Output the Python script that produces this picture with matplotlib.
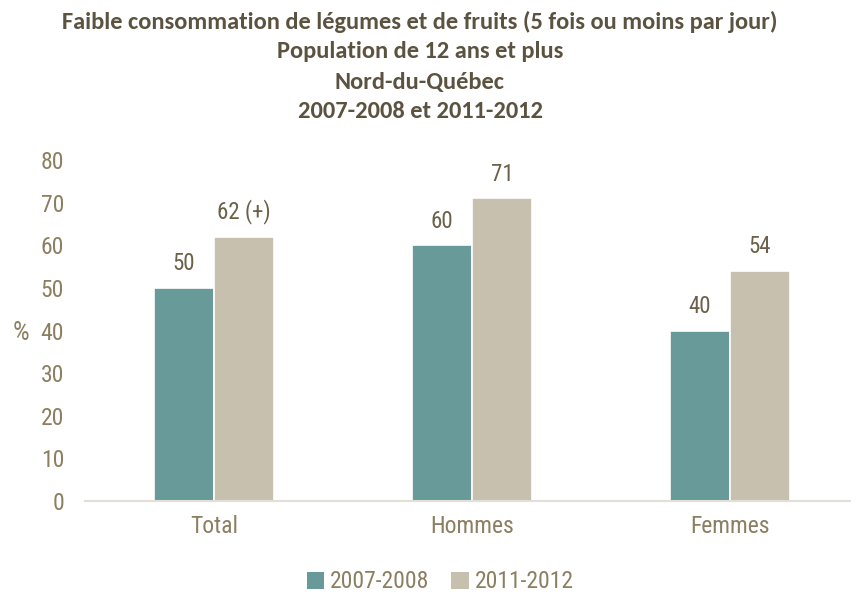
import matplotlib
matplotlib.use("Agg")
import matplotlib.pyplot as plt
from matplotlib import font_manager as fm
from matplotlib.patches import Patch
import numpy as np

categories = ["Total", "Hommes", "Femmes"]
series_names = ["2007-2008", "2011-2012"]
values_2007 = [50, 60, 40]
values_2011 = [62, 71, 54]
labels_2007 = ["50", "60", "40"]
labels_2011 = ["62 (+)", "71", "54"]
yticks = [0, 10, 20, 30, 40, 50, 60, 70, 80]

names = {f.name for f in fm.fontManager.ttflist}
narrow = next((n for n in ["Liberation Sans Narrow", "Roboto Condensed", "Archivo Narrow", "PT Sans Narrow"]
               if n in names), "DejaVu Sans")
title_font = next((n for n in ["Carlito", "Lato", "Open Sans"] if n in names), "DejaVu Sans")

c1 = "#679a98"
c2 = "#c8c0ae"
tick_col = "#8c7e60"
val_col = "#6b6149"
title_col = "#5b5340"

W, H = 851, 598
fig = plt.figure(figsize=(W / 100, H / 100), dpi=100)
left_px, right_px = 85, 851
bottom_px, top_px = 501, 160
ax = fig.add_axes([left_px / W, 1 - bottom_px / H, (right_px - left_px) / W, (bottom_px - top_px) / H])

x = np.arange(len(categories))
bw = 0.232
ax.bar(x - bw / 2, values_2007, bw, color=c1, edgecolor="white", linewidth=1.2, zorder=2)
ax.bar(x + bw / 2, values_2011, bw, color=c2, edgecolor="white", linewidth=1.2, zorder=2)

step_px = 258.0
ax.set_xlim(-0.5, -0.5 + (right_px - left_px) / step_px)
ax.set_ylim(0, 80)

for xi, v, t in zip(x - bw / 2, values_2007, labels_2007):
    ax.annotate(t, (xi, v), xytext=(0, 9), textcoords="offset points", ha="center", va="bottom",
                fontsize=16.5, color=val_col, family=narrow)
for xi, v, t in zip(x + bw / 2, values_2011, labels_2011):
    ax.annotate(t, (xi, v), xytext=(0, 9), textcoords="offset points", ha="center", va="bottom",
                fontsize=16.5, color=val_col, family=narrow)

ax.set_yticks(yticks)
ax.set_yticklabels([str(v) for v in yticks], fontsize=17, color=tick_col, family=narrow)
ax.set_xticks(x)
ax.set_xticklabels(categories, fontsize=17, color=tick_col, family=narrow)
ax.tick_params(axis="both", length=0)
ax.tick_params(axis="y", pad=15)
ax.tick_params(axis="x", pad=10)
for s in ["top", "right", "left"]:
    ax.spines[s].set_visible(False)
ax.spines["bottom"].set_color("#e2dfd7")
ax.spines["bottom"].set_linewidth(1.5)

fig.text(21 / W, 1 - 333 / H, "%", fontsize=19, color=tick_col, family=narrow, ha="center", va="center")

title_lines = ["Faible consommation de légumes et de fruits (5 fois ou moins par jour)",
               "Population de 12 ans et plus",
               "Nord-du-Québec",
               "2007-2008 et 2011-2012"]
tsize = 16.0
probe = fig.text(0, 0, title_lines[0], fontsize=tsize, fontweight="bold", family=title_font)
fig.canvas.draw()
wpx = probe.get_window_extent(fig.canvas.get_renderer()).width
probe.remove()
tsize = tsize * 715.0 / wpx
for i, line in enumerate(title_lines):
    fig.text(420 / W, 1 - (22 + 30 * i) / H, line, fontsize=tsize, fontweight="bold",
             color=title_col, family=title_font, ha="center", va="center")

handles = [Patch(facecolor=c1), Patch(facecolor=c2)]
fig.legend(handles, series_names, loc="center", bbox_to_anchor=(440 / W, 1 - 582 / H), ncol=2,
           frameon=False, prop={"family": narrow, "size": 17}, labelcolor=tick_col,
           handlelength=0.75, handleheight=0.75, handletextpad=0.25, columnspacing=0.9)

fig.savefig("out.png", dpi=100)
